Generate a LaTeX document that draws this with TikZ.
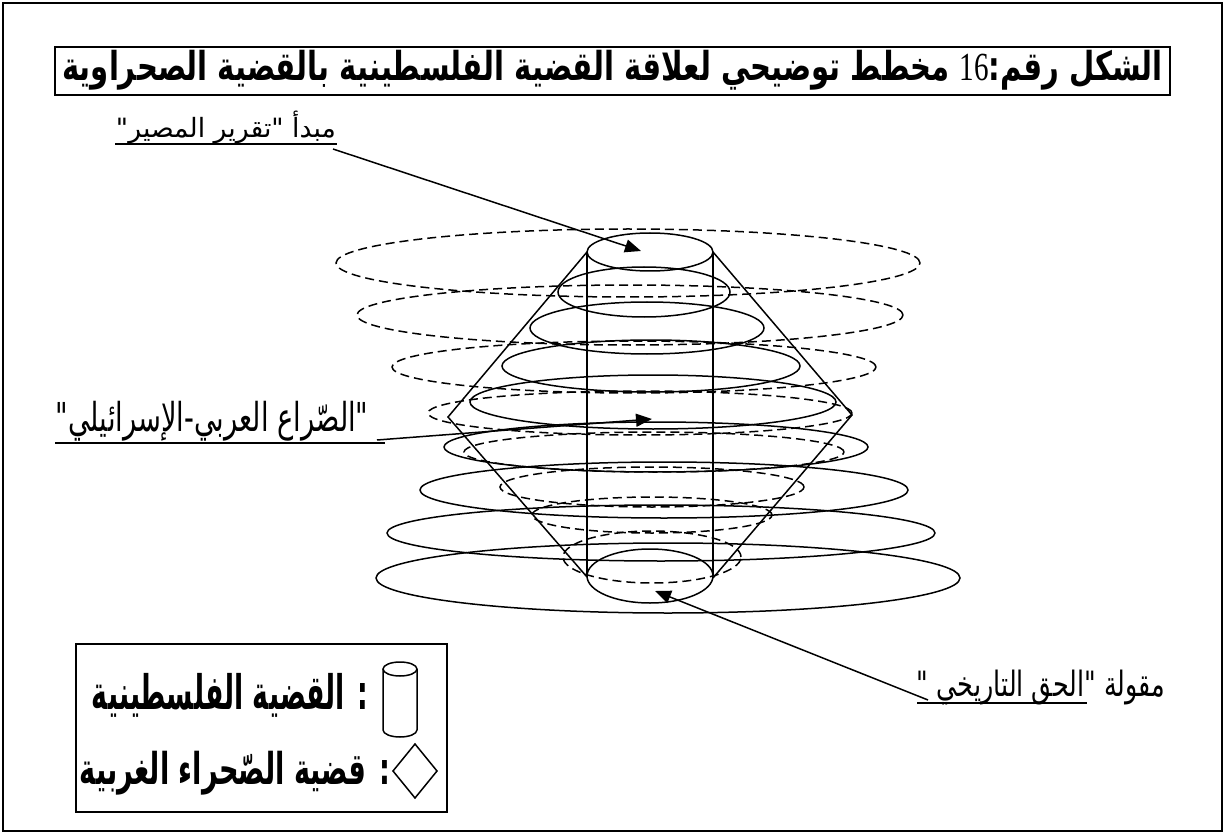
\documentclass[tikz,border=0pt]{standalone}
\usepackage{fontspec}
\usepackage{graphicx}
\usetikzlibrary{arrows.meta,calc}
\TeXXeTstate=1
\newfontfamily\arabicfont[Script=Arabic]{DejaVu Sans}
\newfontfamily\numfont{Liberation Serif}
\newcommand{\artext}[1]{{\arabicfont\beginR #1\endR}}
\newcommand{\arbold}[1]{{\arabicfont\bfseries\beginR #1\endR}}
\begin{document}
\begin{tikzpicture}[x=1pt,y=-1pt,
  ln/.style={line width=1.5pt},
  dl/.style={line width=1.5pt, dash pattern=on 9pt off 5pt},
  arr/.style={line width=1.5pt, -{Triangle[length=16pt,width=13pt]}},
  txt/.style={inner sep=0pt, outer sep=0pt}
]
\useasboundingbox (0,0) rectangle (1226,834);
\draw[line width=1.6pt] (3,3) rectangle (1222,831);

% title
\node[draw, line width=1.5pt, minimum width=1115pt, minimum height=48pt, inner sep=0pt] (titlebox) at (612.5,71) {};
\node[txt] (title) at (612.5,70.5) {\resizebox*{1100pt}{40pt}{\arbold{الشكل رقم:\beginL{\numfont\mdseries 16}\endL{} مخطط توضيحي لعلاقة القضية الفلسطينية بالقضية الصحراوية}}};

% dashed ellipses (Western Sahara)
\draw[dl] (628,263) ellipse [x radius=292pt, y radius=34pt];
\draw[dl] (630,315) ellipse [x radius=273pt, y radius=30pt];
\draw[dl] (634,367) ellipse [x radius=242pt, y radius=26pt];
\draw[dl] (640,413) ellipse [x radius=212pt, y radius=22pt];
\draw[dl] (654,452) ellipse [x radius=190pt, y radius=20pt];
\draw[dl] (652,487) ellipse [x radius=152pt, y radius=20pt];
\draw[dl] (652,515) ellipse [x radius=120pt, y radius=18pt];
\draw[dl] (652,557) ellipse [x radius=89pt, y radius=26pt];

% solid ellipses
\draw[ln] (650,252) ellipse [x radius=63pt, y radius=19pt];
\draw[ln] (644,292) ellipse [x radius=86pt, y radius=25pt];
\draw[ln] (647,328) ellipse [x radius=117pt, y radius=26pt];
\draw[ln] (651,366) ellipse [x radius=149pt, y radius=26pt];
\draw[ln] (653,402) ellipse [x radius=183pt, y radius=27pt];
\draw[ln] (656,447) ellipse [x radius=212pt, y radius=25pt];
\draw[ln] (664,490) ellipse [x radius=244pt, y radius=28pt];
\draw[ln] (661,533) ellipse [x radius=274pt, y radius=28pt];
\draw[ln] (668,578) ellipse [x radius=292pt, y radius=35pt];
\draw[ln] (650,576) ellipse [x radius=63pt, y radius=27pt];

% cylinder
\draw[ln] (587,252) -- (587,576);
\draw[ln] (713,252) -- (713,576);

% diamond / cone
\draw[ln] (587,252) -- (448,417) -- (587,577);
\draw[ln] (713,252) -- (852,415) -- (713,578);

% labels
\node[txt] (lab1) at (226,127) {\resizebox*{220pt}{33pt}{\artext{مبدأ "\kern0pt تقرير المصير\kern0pt"}}};
\draw[ln] (115,144) -- (337,144);
\node[txt] (lab2) at (212,421) {\resizebox*{313pt}{40pt}{\artext{"\kern0pt الصّراع العربي-الإسرائيلي\kern0pt"}}};
\draw[ln] (55,443) -- (385,443);
\node[txt] (lab3) at (1041,688) {\resizebox*{248pt}{35pt}{\artext{مقولة "\kern0pt الحق التاريخي "}}};
\draw[ln] (917,703) -- (1087,703);

% arrows
\coordinate (a1s) at (333,149);
\coordinate (a1e) at (641,251);
\coordinate (a2s) at (377,440);
\coordinate (a2e) at (652,419);
\coordinate (a3s) at (928,700);
\coordinate (a3e) at (655,591);
\draw[arr] (a1s) -- (a1e);
\draw[arr] (a2s) -- (a2e);
\draw[arr] (a3s) -- (a3e);

% legend
\draw[line width=1.5pt] (76,644) rectangle (447,812);
\draw[ln] (400,669) ellipse [x radius=17pt, y radius=7pt];
\draw[ln] (383,669) -- (383,730) arc[start angle=180, end angle=360, x radius=17pt, y radius=7pt] -- (417,669);
\draw[ln] (393,771) -- (415,744) -- (437,771) -- (415,798) -- cycle;
\node[txt, anchor=east] (leg1) at (368,695) {\resizebox*{276pt}{44pt}{\arbold{: القضية الفلسطينية}}};
\node[txt, anchor=east] (leg2) at (390,773) {\resizebox*{310pt}{44pt}{\arbold{: قضية الصّحراء الغربية}}};
\end{tikzpicture}
\end{document}
